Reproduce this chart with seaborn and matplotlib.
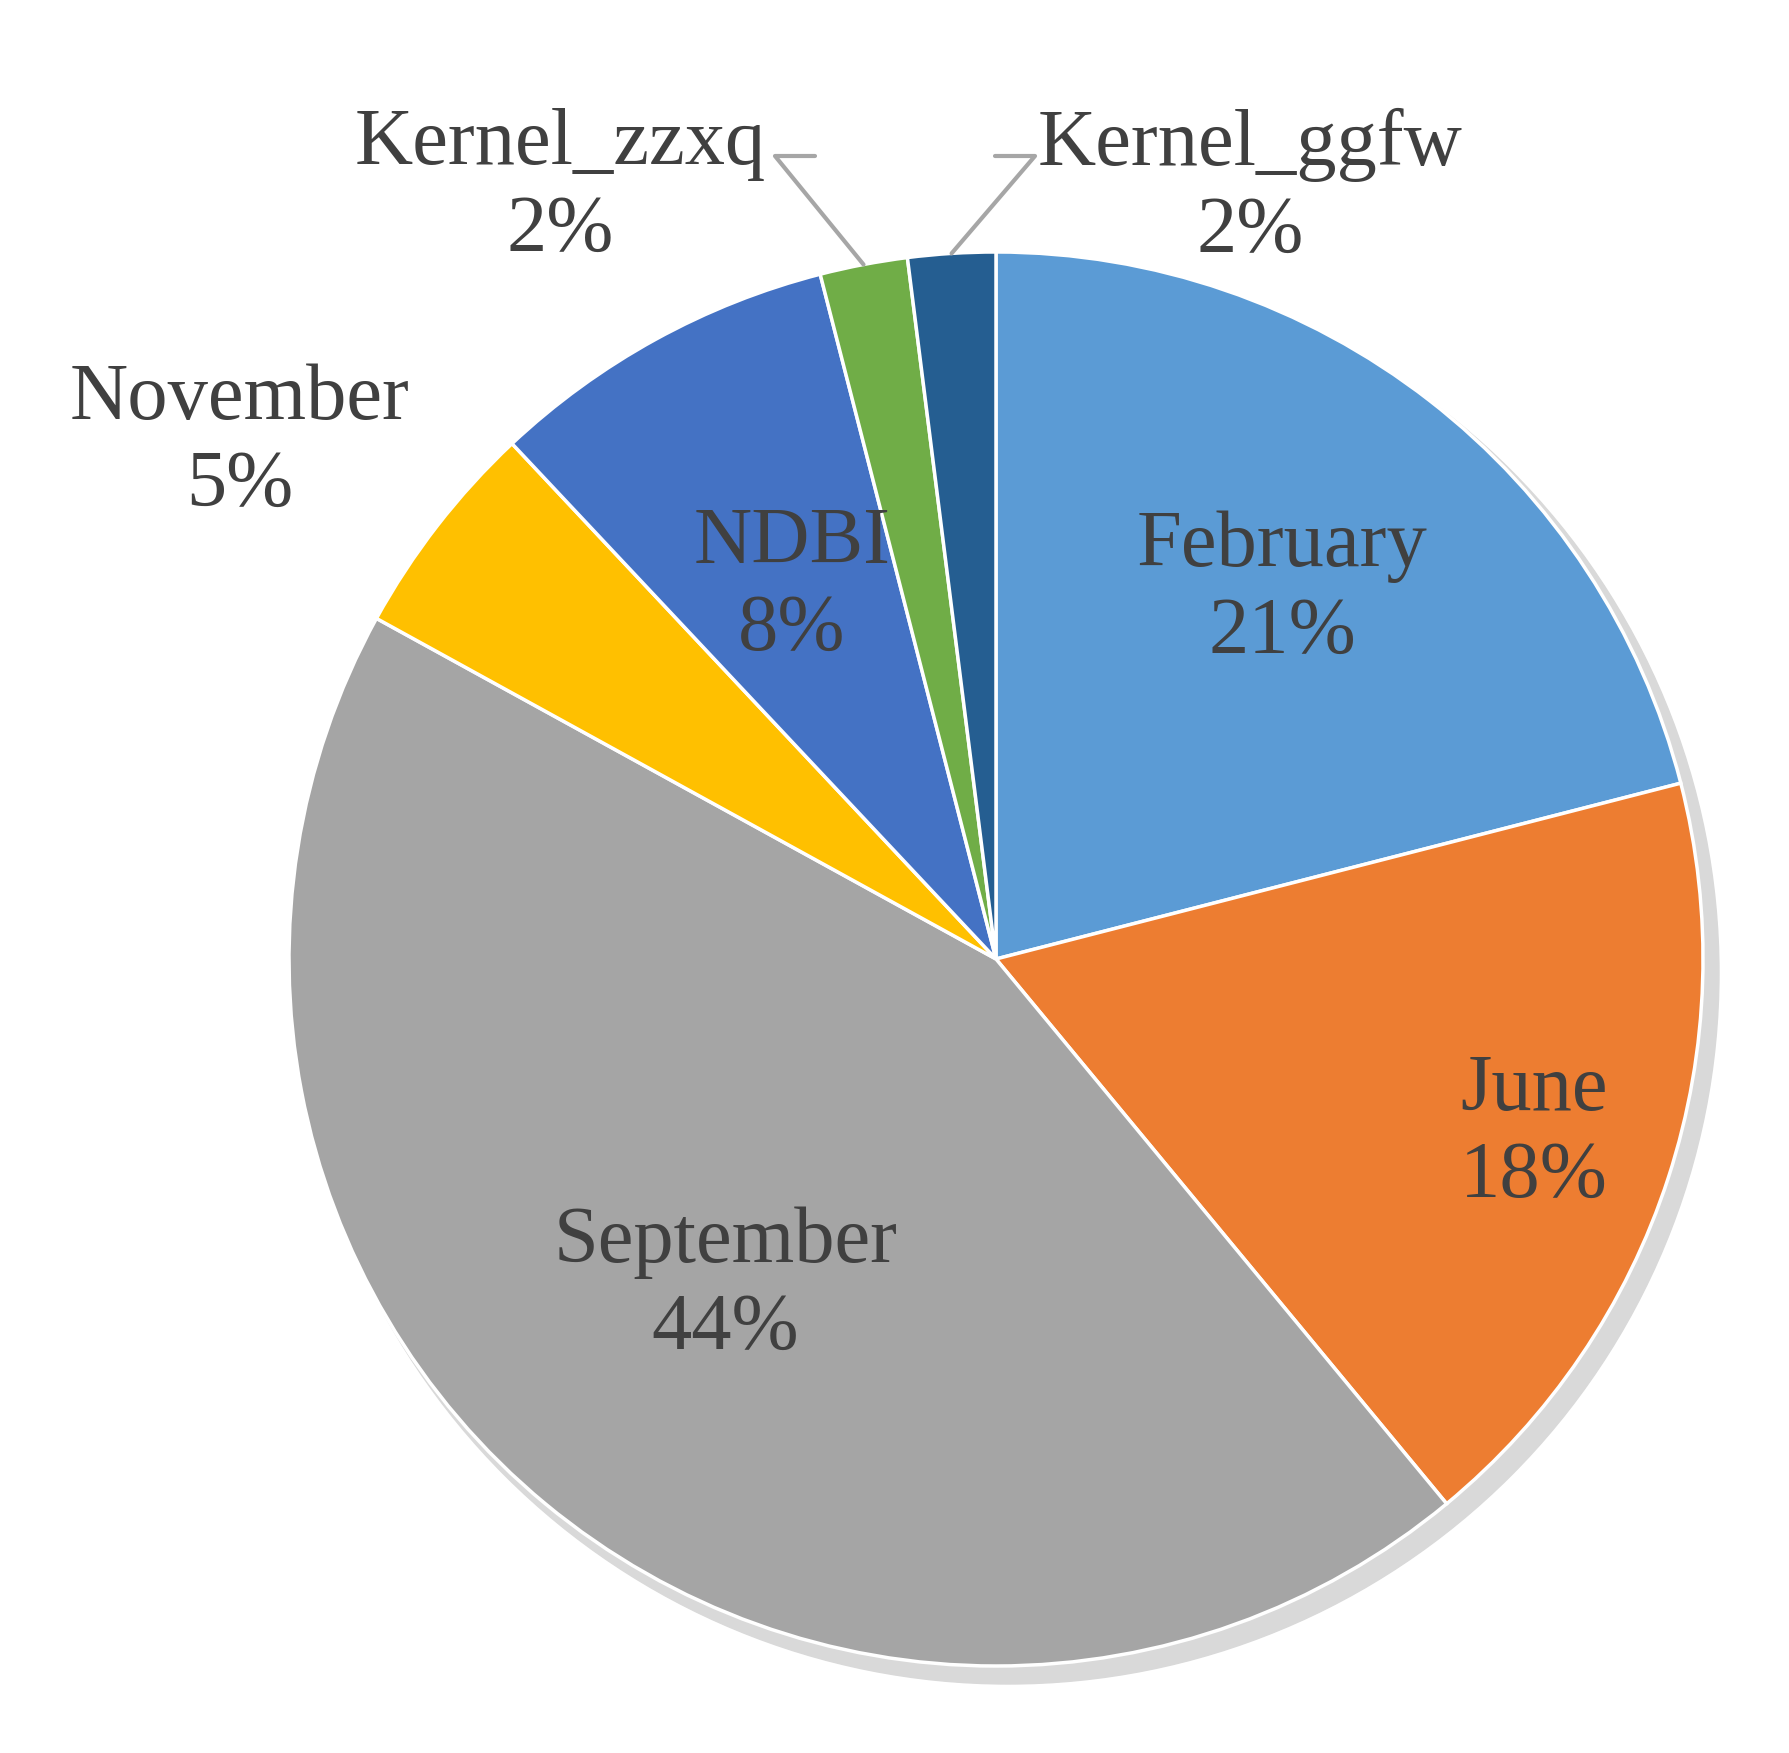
import matplotlib.pyplot as plt
import seaborn as sns
import numpy as np

# data
labels = ['February', 'June', 'September', 'November', 'NDBI', 'Kernel_zzxq', 'Kernel_ggfw']
shares = [21, 18, 44, 5, 8, 2, 2]
colors = ['#5B9BD5', '#ED7D31', '#A5A5A5', '#FFC000', '#4472C4', '#70AD47', '#255E91']

sns.set_theme(style='white')
plt.rcParams['font.family'] = ['Liberation Serif', 'DejaVu Serif']

W, H = 1790, 1753
fig = plt.figure(figsize=(W / 100, H / 100), dpi=100)
ax = fig.add_axes([0, 0, 1, 1])

cx, cy, r = 996, 794, 707
# soft shadow
ax.add_patch(plt.Circle((cx + 12, cy - 14), r + 4, color='#d9d9d9', zorder=0))
wedges, _ = ax.pie(shares, colors=colors, startangle=90, counterclock=False,
                   center=(cx, cy), radius=r, frame=True,
                   wedgeprops=dict(linewidth=2.5, edgecolor='white'))
ax.set_xlim(0, W)
ax.set_ylim(0, H)
ax.set_aspect('equal')
ax.axis('off')

txt = dict(fontsize=58, color='#404040', ha='center', va='center', linespacing=1.25)
inside = {'February': 0.66, 'June': 0.8, 'September': 0.6, 'NDBI': 0.6}
outside = {'November': (240, 1310), 'Kernel_zzxq': (560, 1565), 'Kernel_ggfw': (1250, 1565)}

for w, lab, s in zip(wedges, labels, shares):
    ang = np.deg2rad((w.theta1 + w.theta2) / 2)
    text = f'{lab}\n{s}%'
    if lab in inside:
        d = inside[lab] * r
        ax.text(cx + d * np.cos(ang), cy + d * np.sin(ang), text, **txt)
    else:
        tx, ty = outside[lab]
        ax.text(tx, ty, text, **txt)
        if lab.startswith('Kernel'):
            ex, ey = cx + r * np.cos(ang), cy + r * np.sin(ang)
            side = 1 if lab.endswith('ggfw') else -1
            hx = tx - side * 255
            kx = hx + side * 40
            ax.plot([ex, kx, hx], [ey, ty + 32, ty + 32],
                    color='#a6a6a6', lw=3, zorder=1)

fig.savefig('out.png', dpi=100)
